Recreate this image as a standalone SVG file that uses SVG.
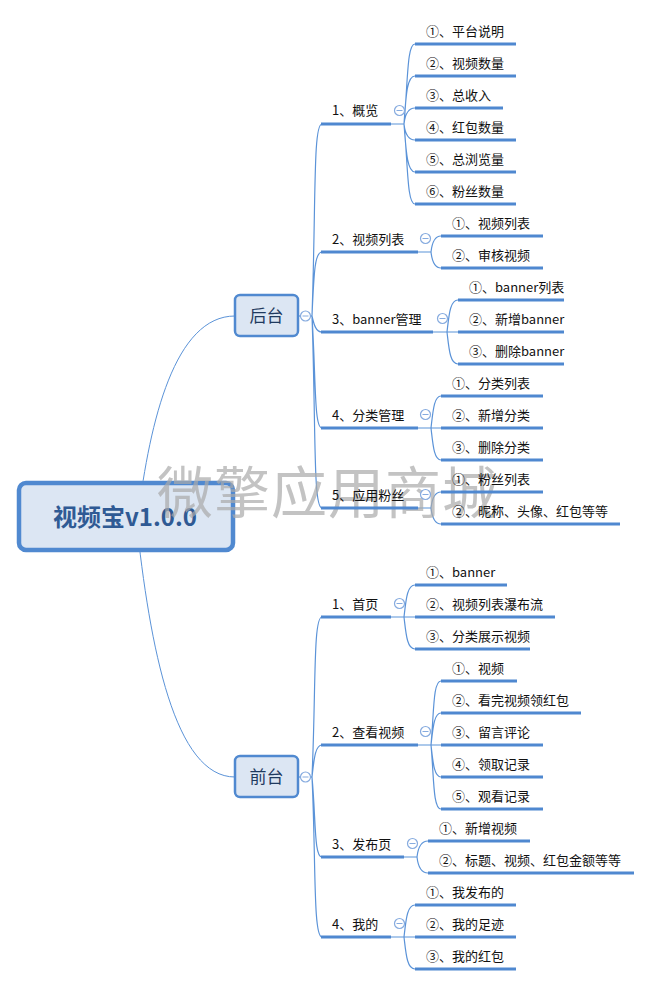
<svg xmlns="http://www.w3.org/2000/svg" width="651" height="986" viewBox="0 0 651 986">
<style>
text{font-family:"Noto Sans CJK SC","Liberation Sans",sans-serif;fill:#111;font-size:13px}
.c{fill:none;stroke:#5b93d8;stroke-width:1.2}
.u{stroke:#4f88d0;stroke-width:3;fill:none}
.box{fill:#dce6f3;stroke:#5089d0;stroke-width:2.5}
.l1{font-size:17px;fill:#1f3a5f;text-anchor:middle}
.f circle{fill:#fff;stroke:#86abdf;stroke-width:1.2}
.f path{stroke:#86abdf;stroke-width:1;fill:none}
</style>
<defs>
<g id="fold" class="f"><circle r="5"/><path d="M-3 0H3"/></g>
</defs>
<rect width="651" height="986" fill="#fff"/>
<g id="connectors">
<path class="c" style="stroke-width:1" d="M138 517C150 420 175 316 235 316"/>
<path class="c" style="stroke-width:1" d="M136 517C150 650 175 777 235 777"/>
<path class="c" d="M298 316H312"/>
<path class="c" d="M298 777H312"/>
<path class="c" d="M312 316C316 200 313 124 322 124M312 316C314 270 315 252 322 252M312 316C314 325 316 332 322 332M312 316C316 380 314 428 322 428M312 316C316 430 313 508 322 508"/>
<path class="c" d="M312 777C316 690 313 617 322 617M312 777C314 760 315 745 322 745M312 777C316 820 314 857 322 857M312 777C316 860 313 937 322 937"/>
<path class="c" d="M391 124H404M404 124C408 80 407 44 415 44M404 124C406 95 407 76 415 76M404 124C405 115 408 108 415 108M404 124C405 133 408 140 415 140M404 124C406 150 407 172 415 172M404 124C408 165 407 204 415 204"/>
<path class="c" d="M418 252H431M431 252C432 243 435 236 441 236M431 252C432 261 435 268 441 268"/>
<path class="c" d="M433 332H447M447 332C449 315 450 300 458 300M447 332H458M447 332C449 349 450 364 458 364"/>
<path class="c" d="M418 428H431M431 428C433 411 434 396 441 396M431 428H441M431 428C433 445 434 460 441 460"/>
<path class="c" d="M418 508H431M431 508C432 499 435 492 441 492M431 508C432 517 435 524 441 524"/>
<path class="c" d="M391 617H404M404 617C406 600 407 585 415 585M404 617H415M404 617C406 634 407 649 415 649"/>
<path class="c" d="M418 745H431M431 745C434 712 433 681 441 681M431 745C433 728 434 713 441 713M431 745H441M431 745C433 762 434 777 441 777M431 745C434 778 433 809 441 809"/>
<path class="c" d="M404 857H417M417 857C418 848 421 841 428 841M417 857C418 866 421 873 428 873"/>
<path class="c" d="M391 937H404M404 937C406 920 407 905 415 905M404 937H415M404 937C406 954 407 969 415 969"/>
</g>
<g id="root"><rect x="19" y="483" width="214" height="67" rx="7" fill="#dce6f3" stroke="#5089d0" stroke-width="4.500"/><text x="125" y="526" text-anchor="middle" style="font-size:24px;font-weight:700;fill:#2f5a94">视频宝v1.0.0</text></g>
<text id="watermark" x="157" y="513" style="font-size:56px;letter-spacing:1px;fill:#aaa;opacity:.7">微擎应用商城</text>
<g id="houtai"><rect class="box" x="235" y="295" width="63" height="41" rx="5"/><text class="l1" x="266.500" y="322">后台</text><use href="#fold" x="305.500" y="316"/></g>
<g id="qiantai"><rect class="box" x="235" y="756" width="63" height="41" rx="5"/><text class="l1" x="266.500" y="783">前台</text><use href="#fold" x="305.500" y="777"/></g>

<g id="b1"><path class="u" d="M321 124H391"/><text x="332" y="114.500">1、概览</text><use href="#fold" x="399.500" y="110.500"/></g>
<g id="b1-1"><path class="u" d="M415 44H516"/><text x="426" y="35.500">①、平台说明</text></g>
<g id="b1-2"><path class="u" d="M415 76H516"/><text x="426" y="67.500">②、视频数量</text></g>
<g id="b1-3"><path class="u" d="M415 108H503"/><text x="426" y="99.500">③、总收入</text></g>
<g id="b1-4"><path class="u" d="M415 140H516"/><text x="426" y="131.500">④、红包数量</text></g>
<g id="b1-5"><path class="u" d="M415 172H516"/><text x="426" y="163.500">⑤、总浏览量</text></g>
<g id="b1-6"><path class="u" d="M415 204H516"/><text x="426" y="195.500">⑥、粉丝数量</text></g>

<g id="b2"><path class="u" d="M321 252H418"/><text x="332" y="243.500">2、视频列表</text><use href="#fold" x="425.500" y="238.500"/></g>
<g id="b2-1"><path class="u" d="M441 236H543"/><text x="452" y="227.500">①、视频列表</text></g>
<g id="b2-2"><path class="u" d="M441 268H543"/><text x="452" y="259.500">②、审核视频</text></g>

<g id="b3"><path class="u" d="M321 332H433"/><text x="332" y="323.500">3、banner管理</text><use href="#fold" x="442.500" y="318.500"/></g>
<g id="b3-1"><path class="u" d="M458 300H564"/><text x="469" y="291.500">①、banner列表</text></g>
<g id="b3-2"><path class="u" d="M458 332H564"/><text x="469" y="323.500">②、新增banner</text></g>
<g id="b3-3"><path class="u" d="M458 364H564"/><text x="469" y="355.500">③、删除banner</text></g>

<g id="b4"><path class="u" d="M321 428H418"/><text x="332" y="419.500">4、分类管理</text><use href="#fold" x="425.500" y="414.500"/></g>
<g id="b4-1"><path class="u" d="M441 396H543"/><text x="452" y="387.500">①、分类列表</text></g>
<g id="b4-2"><path class="u" d="M441 428H543"/><text x="452" y="419.500">②、新增分类</text></g>
<g id="b4-3"><path class="u" d="M441 460H543"/><text x="452" y="451.500">③、删除分类</text></g>

<g id="b5"><path class="u" d="M321 508H418"/><text x="332" y="499.500">5、应用粉丝</text><use href="#fold" x="425.500" y="494.500"/></g>
<g id="b5-1"><path class="u" d="M441 492H543"/><text x="452" y="483.500">①、粉丝列表</text></g>
<g id="b5-2"><path class="u" d="M441 524H620"/><text x="452" y="515.500">②、昵称、头像、红包等等</text></g>

<g id="f1"><path class="u" d="M321 617H391"/><text x="332" y="608.500">1、首页</text><use href="#fold" x="399.500" y="603.500"/></g>
<g id="f1-1"><path class="u" d="M415 585H507"/><text x="426" y="576.500">①、banner</text></g>
<g id="f1-2"><path class="u" d="M415 617H555"/><text x="426" y="608.500">②、视频列表瀑布流</text></g>
<g id="f1-3"><path class="u" d="M415 649H530"/><text x="426" y="640.500">③、分类展示视频</text></g>

<g id="f2"><path class="u" d="M321 745H418"/><text x="332" y="736.500">2、查看视频</text><use href="#fold" x="425.500" y="731.500"/></g>
<g id="f2-1"><path class="u" d="M441 681H517"/><text x="452" y="672.500">①、视频</text></g>
<g id="f2-2"><path class="u" d="M441 713H581"/><text x="452" y="704.500">②、看完视频领红包</text></g>
<g id="f2-3"><path class="u" d="M441 745H543"/><text x="452" y="736.500">③、留言评论</text></g>
<g id="f2-4"><path class="u" d="M441 777H543"/><text x="452" y="768.500">④、领取记录</text></g>
<g id="f2-5"><path class="u" d="M441 809H543"/><text x="452" y="800.500">⑤、观看记录</text></g>

<g id="f3"><path class="u" d="M321 857H404"/><text x="332" y="848.500">3、发布页</text><use href="#fold" x="412.500" y="843.500"/></g>
<g id="f3-1"><path class="u" d="M428 841H530"/><text x="439" y="832.500">①、新增视频</text></g>
<g id="f3-2"><path class="u" d="M428 873H634"/><text x="439" y="864.500">②、标题、视频、红包金额等等</text></g>

<g id="f4"><path class="u" d="M321 937H391"/><text x="332" y="928.500">4、我的</text><use href="#fold" x="399.500" y="923.500"/></g>
<g id="f4-1"><path class="u" d="M415 905H516"/><text x="426" y="896.500">①、我发布的</text></g>
<g id="f4-2"><path class="u" d="M415 937H516"/><text x="426" y="928.500">②、我的足迹</text></g>
<g id="f4-3"><path class="u" d="M415 969H516"/><text x="426" y="960.500">③、我的红包</text></g>
</svg>
